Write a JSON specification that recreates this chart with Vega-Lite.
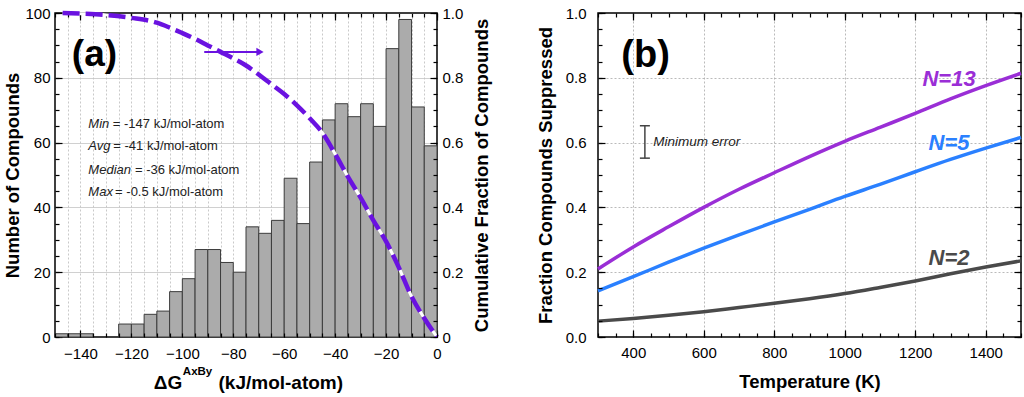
{
  "$schema": "https://vega.github.io/schema/vega-lite/v6.json",
  "background": "white",
  "padding": {"left": 3, "top": 3, "right": 0, "bottom": 2},
  "spacing": 42,
  "config": {
    "font": "Liberation Sans",
    "view": {"stroke": "#000", "strokeWidth": 1.5},
    "axis": {
      "labelFont": "Liberation Sans", "labelFontSize": 15, "labelColor": "#000",
      "titleFont": "Liberation Sans", "titleFontSize": 18.5, "titleFontWeight": "bold", "titleColor": "#000",
      "domain": false, "tickColor": "#000", "tickWidth": 1.2,
      "gridColor": "#c4c4c4", "gridWidth": 0.8, "labelFlush": false, "labelOverlap": false
    }
  },
  "datasets": {
    "bars": [
      {"lo": -150, "hi": -145, "n": 1}, {"lo": -145, "hi": -140, "n": 1}, {"lo": -140, "hi": -135, "n": 1},
      {"lo": -125, "hi": -120, "n": 4}, {"lo": -120, "hi": -115, "n": 4}, {"lo": -115, "hi": -110, "n": 7},
      {"lo": -110, "hi": -105, "n": 8}, {"lo": -105, "hi": -100, "n": 14}, {"lo": -100, "hi": -95, "n": 18},
      {"lo": -95, "hi": -90, "n": 27}, {"lo": -90, "hi": -85, "n": 27}, {"lo": -85, "hi": -80, "n": 23},
      {"lo": -80, "hi": -75, "n": 20}, {"lo": -75, "hi": -70, "n": 34}, {"lo": -70, "hi": -65, "n": 32},
      {"lo": -65, "hi": -60, "n": 36}, {"lo": -60, "hi": -55, "n": 49}, {"lo": -55, "hi": -50, "n": 35},
      {"lo": -50, "hi": -45, "n": 54}, {"lo": -45, "hi": -40, "n": 67}, {"lo": -40, "hi": -35, "n": 72},
      {"lo": -35, "hi": -30, "n": 68}, {"lo": -30, "hi": -25, "n": 72}, {"lo": -25, "hi": -20, "n": 65},
      {"lo": -20, "hi": -15, "n": 89}, {"lo": -15, "hi": -10, "n": 98}, {"lo": -10, "hi": -5, "n": 71},
      {"lo": -5, "hi": 0, "n": 59}
    ],
    "cum": [
      {"g": -147, "frac": 1.0}, {"g": -140, "frac": 0.998}, {"g": -130, "frac": 0.994}, {"g": -120, "frac": 0.985},
      {"g": -110, "frac": 0.97}, {"g": -105, "frac": 0.955}, {"g": -100, "frac": 0.938}, {"g": -95, "frac": 0.92},
      {"g": -90, "frac": 0.9}, {"g": -85, "frac": 0.88}, {"g": -80, "frac": 0.86}, {"g": -75, "frac": 0.838},
      {"g": -70, "frac": 0.81}, {"g": -65, "frac": 0.78}, {"g": -60, "frac": 0.75}, {"g": -55, "frac": 0.715},
      {"g": -50, "frac": 0.675}, {"g": -45, "frac": 0.63}, {"g": -40, "frac": 0.565}, {"g": -35, "frac": 0.495},
      {"g": -30, "frac": 0.43}, {"g": -25, "frac": 0.36}, {"g": -20, "frac": 0.295}, {"g": -15, "frac": 0.215},
      {"g": -10, "frac": 0.125}, {"g": -5, "frac": 0.058}, {"g": 0, "frac": 0.0}
    ],
    "arrow": [{"x1": -91.4, "x2": -70, "y": 88}],
    "arrowhead": [{"x": -69.5, "y": 88}],
    "panelA": [{"x": -143.4, "y": 87, "t": "(a)"}],
    "stats": [
      {"lab": "Min", "rest": "= -147 kJ/mol-atom", "x": -136.9, "xr": -127.3, "y": 65.8},
      {"lab": "Avg", "rest": "= -41 kJ/mol-atom", "x": -136.9, "xr": -127.1, "y": 58.8},
      {"lab": "Median", "rest": "= -36 kJ/mol-atom", "x": -136.9, "xr": -118.6, "y": 51.6},
      {"lab": "Max", "rest": "= -0.5 kJ/mol-atom", "x": -136.9, "xr": -126.4, "y": 44.6}
    ],
    "xtitleMain": [{"x": -111.2, "y": -14.2, "t": "ΔG"}, {"x": -85.8, "y": -14.2, "t": "(kJ/mol-atom)"}],
    "xtitleSup": [{"x": -99.8, "y": -10.9, "t": "AxBy"}],
    "curves": [
      {"s": "N=13", "T": 300, "f": 0.21}, {"s": "N=13", "T": 400, "f": 0.278}, {"s": "N=13", "T": 500, "f": 0.34},
      {"s": "N=13", "T": 600, "f": 0.4}, {"s": "N=13", "T": 700, "f": 0.456}, {"s": "N=13", "T": 800, "f": 0.507},
      {"s": "N=13", "T": 900, "f": 0.557}, {"s": "N=13", "T": 1000, "f": 0.604}, {"s": "N=13", "T": 1100, "f": 0.647},
      {"s": "N=13", "T": 1200, "f": 0.69}, {"s": "N=13", "T": 1300, "f": 0.735}, {"s": "N=13", "T": 1400, "f": 0.776},
      {"s": "N=13", "T": 1500, "f": 0.814},
      {"s": "N=5", "T": 300, "f": 0.142}, {"s": "N=5", "T": 400, "f": 0.186}, {"s": "N=5", "T": 500, "f": 0.231},
      {"s": "N=5", "T": 600, "f": 0.274}, {"s": "N=5", "T": 700, "f": 0.315}, {"s": "N=5", "T": 800, "f": 0.355},
      {"s": "N=5", "T": 900, "f": 0.394}, {"s": "N=5", "T": 1000, "f": 0.434}, {"s": "N=5", "T": 1100, "f": 0.471},
      {"s": "N=5", "T": 1200, "f": 0.51}, {"s": "N=5", "T": 1300, "f": 0.548}, {"s": "N=5", "T": 1400, "f": 0.583},
      {"s": "N=5", "T": 1500, "f": 0.616},
      {"s": "N=2", "T": 300, "f": 0.049}, {"s": "N=2", "T": 400, "f": 0.057}, {"s": "N=2", "T": 500, "f": 0.067},
      {"s": "N=2", "T": 600, "f": 0.078}, {"s": "N=2", "T": 700, "f": 0.091}, {"s": "N=2", "T": 800, "f": 0.104},
      {"s": "N=2", "T": 900, "f": 0.118}, {"s": "N=2", "T": 1000, "f": 0.134}, {"s": "N=2", "T": 1100, "f": 0.153},
      {"s": "N=2", "T": 1200, "f": 0.173}, {"s": "N=2", "T": 1300, "f": 0.195}, {"s": "N=2", "T": 1400, "f": 0.216},
      {"s": "N=2", "T": 1500, "f": 0.235}
    ],
    "curveLabels": [
      {"s": "N=13", "T": 1296, "f": 0.797}, {"s": "N=5", "T": 1296, "f": 0.598}, {"s": "N=2", "T": 1296, "f": 0.243}
    ],
    "err": [{"T": 433, "lo": 0.552, "hi": 0.652}],
    "errCaps": [{"T": 433, "f": 0.552}, {"T": 433, "f": 0.652}],
    "errText": [{"T": 457, "f": 0.601, "t": "Minimum error"}],
    "panelB": [{"T": 435, "f": 0.866, "t": "(b)"}]
  },
  "hconcat": [
    {
      "width": 382,
      "height": 324,
      "resolve": {"scale": {"y": "independent"}, "axis": {"x": "independent", "y": "independent"}},
      "layer": [
        {
          "data": {"name": "bars"},
          "mark": {"type": "bar", "fill": "#ababab", "stroke": "#3c3c3c", "strokeWidth": 1, "opacity": 1},
          "encoding": {
            "x": {"field": "lo", "type": "quantitative", "scale": {"domain": [-150, 0], "nice": false, "zero": false},
              "axis": {"orient": "bottom", "title": null, "values": [-140,-120,-100,-80,-60,-40,-20,0],
                "grid": false, "tickSize": 7, "offset": -7, "labelPadding": 9}},
            "x2": {"field": "hi"},
            "y": {"field": "n", "type": "quantitative", "scale": {"domain": [0, 100], "nice": false},
              "axis": {"orient": "left", "title": "Number of Compounds", "titlePadding": 2,
                "values": [0,20,40,60,80,100], "grid": false, "tickSize": 7, "offset": -7, "labelPadding": 5}},
            "y2": {"datum": 0}
          }
        },
        {
          "data": {"name": "cum"},
          "mark": {"type": "line", "color": "white", "strokeWidth": 3, "interpolate": "monotone"},
          "encoding": {
            "x": {"field": "g", "type": "quantitative", "scale": {"domain": [-150, 0], "nice": false, "zero": false},
              "axis": {"orient": "bottom", "title": null, "labels": false, "grid": false, "zindex": 2,
                "values": [-150,-145,-140,-135,-130,-125,-120,-115,-110,-105,-100,-95,-90,-85,-80,-75,-70,-65,-60,-55,-50,-45,-40,-35,-30,-25,-20,-15,-10,-5,0],
                "tickSize": 4, "offset": -4}},
            "y": {"field": "frac", "type": "quantitative", "scale": {"domain": [0, 1], "nice": false},
              "axis": {"orient": "right", "title": null, "labels": false, "grid": false, "zindex": 2,
                "values": [0,0.05,0.1,0.15,0.2,0.25,0.3,0.35,0.4,0.45,0.5,0.55,0.6,0.65,0.7,0.75,0.8,0.85,0.9,0.95,1],
                "tickSize": 4, "offset": -4}}
          }
        },
        {
          "data": {"name": "cum"},
          "mark": {"type": "line", "color": "#6a12e0", "strokeWidth": 4.5, "strokeDash": [17, 6], "interpolate": "monotone"},
          "encoding": {
            "x": {"field": "g", "type": "quantitative", "scale": {"domain": [-150, 0], "nice": false, "zero": false},
              "axis": {"orient": "top", "title": null, "labels": false, "grid": false,
                "values": [-140,-120,-100,-80,-60,-40,-20,0], "tickSize": 7, "offset": -7}},
            "y": {"field": "frac", "type": "quantitative", "scale": {"domain": [0, 1], "nice": false},
              "axis": {"orient": "right", "title": "Cumulative Fraction of Compounds", "titlePadding": 10,
                "titleAngle": 270, "titleBaseline": "top",
                "values": [0,0.2,0.4,0.6,0.8,1],
                "labelExpr": "datum.value === 0 ? '0' : format(datum.value, '.1f')",
                "grid": false, "tickSize": 7, "offset": -7, "labelPadding": 5}}
          }
        },
        {
          "data": {"name": "arrow"},
          "mark": {"type": "rule", "color": "#6a12e0", "strokeWidth": 2},
          "encoding": {
            "x": {"field": "x1", "type": "quantitative", "scale": {"domain": [-150, 0], "nice": false, "zero": false},
              "axis": {"orient": "top", "title": null, "labels": false, "grid": false,
                "values": [-150,-145,-140,-135,-130,-125,-120,-115,-110,-105,-100,-95,-90,-85,-80,-75,-70,-65,-60,-55,-50,-45,-40,-35,-30,-25,-20,-15,-10,-5,0],
                "tickSize": 4, "offset": -4}},
            "x2": {"field": "x2"},
            "y": {"field": "y", "type": "quantitative", "scale": {"domain": [0, 100], "nice": false},
              "axis": {"orient": "left", "title": null, "labels": false, "grid": false, "zindex": 2,
                "values": [0,5,10,15,20,25,30,35,40,45,50,55,60,65,70,75,80,85,90,95,100], "tickSize": 4, "offset": -4}}
          }
        },
        {
          "data": {"name": "arrowhead"},
          "mark": {"type": "point", "shape": "triangle-right", "filled": true, "color": "#6a12e0", "size": 70, "opacity": 1},
          "encoding": {
            "x": {"field": "x", "type": "quantitative", "scale": {"domain": [-150, 0], "nice": false, "zero": false},
              "axis": {"orient": "bottom", "title": null, "labels": false, "ticks": false, "grid": true, "gridDash": [2, 2], "gridColor": "#bbbbbb",
                "values": [-145,-140,-135,-130,-125,-120,-115,-110,-105,-100,-95,-90,-85,-80,-75,-70,-65,-60,-55,-50,-45,-40,-35,-30,-25,-20,-15,-10,-5]}},
            "y": {"field": "y", "type": "quantitative", "scale": {"domain": [0, 100], "nice": false},
              "axis": {"orient": "left", "title": null, "labels": false, "ticks": false, "grid": true,
                "values": [20,40,60,80]}}
          }
        },
        {
          "data": {"name": "stats"},
          "mark": {"type": "text", "align": "left", "baseline": "middle", "fontSize": 13, "fontStyle": "italic", "color": "#222"},
          "encoding": {
            "x": {"field": "x", "type": "quantitative", "scale": {"domain": [-150, 0], "nice": false, "zero": false}, "axis": null},
            "y": {"field": "y", "type": "quantitative", "scale": {"domain": [0, 100], "nice": false}, "axis": null},
            "text": {"field": "lab"}
          }
        },
        {
          "data": {"name": "stats"},
          "mark": {"type": "text", "align": "left", "baseline": "middle", "fontSize": 13, "color": "#222"},
          "encoding": {
            "x": {"field": "xr", "type": "quantitative", "scale": {"domain": [-150, 0], "nice": false, "zero": false}, "axis": null},
            "y": {"field": "y", "type": "quantitative", "scale": {"domain": [0, 100], "nice": false}, "axis": null},
            "text": {"field": "rest"}
          }
        },
        {
          "data": {"name": "xtitleMain"},
          "mark": {"type": "text", "align": "left", "baseline": "middle", "fontSize": 19, "fontWeight": "bold", "color": "#000"},
          "encoding": {
            "x": {"field": "x", "type": "quantitative", "scale": {"domain": [-150, 0], "nice": false, "zero": false}, "axis": null},
            "y": {"field": "y", "type": "quantitative", "scale": {"domain": [0, 100], "nice": false}, "axis": null},
            "text": {"field": "t"}
          }
        },
        {
          "data": {"name": "xtitleSup"},
          "mark": {"type": "text", "align": "left", "baseline": "middle", "fontSize": 11.5, "fontWeight": "bold", "color": "#000"},
          "encoding": {
            "x": {"field": "x", "type": "quantitative", "scale": {"domain": [-150, 0], "nice": false, "zero": false}, "axis": null},
            "y": {"field": "y", "type": "quantitative", "scale": {"domain": [0, 100], "nice": false}, "axis": null},
            "text": {"field": "t"}
          }
        },
        {
          "data": {"name": "panelA"},
          "mark": {"type": "text", "align": "left", "baseline": "middle", "fontSize": 37, "fontWeight": "bold", "color": "#000"},
          "encoding": {
            "x": {"field": "x", "type": "quantitative", "scale": {"domain": [-150, 0], "nice": false, "zero": false}, "axis": null},
            "y": {"field": "y", "type": "quantitative", "scale": {"domain": [0, 100], "nice": false}, "axis": null},
            "text": {"field": "t"}
          }
        }
      ]
    },
    {
      "width": 423,
      "height": 324,
      "resolve": {"axis": {"x": "independent", "y": "independent"}},
      "layer": [
        {
          "data": {"name": "curves"},
          "mark": {"type": "line", "strokeWidth": 3.5, "interpolate": "monotone"},
          "encoding": {
            "x": {"field": "T", "type": "quantitative", "scale": {"domain": [300, 1500], "nice": false, "zero": false},
              "axis": {"orient": "bottom", "title": "Temperature (K)", "titlePadding": 12,
                "values": [400,600,800,1000,1200,1400], "format": "d",
                "grid": false, "tickSize": 7, "offset": -7, "labelPadding": 8}},
            "y": {"field": "f", "type": "quantitative", "scale": {"domain": [0, 1], "nice": false},
              "axis": {"orient": "left", "title": "Fraction Compounds Suppressed", "titlePadding": 10,
                "values": [0,0.2,0.4,0.6,0.8,1], "format": ".1f",
                "grid": false, "tickSize": 7, "offset": -7, "labelPadding": 12}},
            "color": {"field": "s", "type": "nominal", "scale": {"domain": ["N=13", "N=5", "N=2"], "range": ["#9a2ed6", "#2a80ff", "#4a4a4a"]}, "legend": null}
          }
        },
        {
          "data": {"name": "curveLabels"},
          "mark": {"type": "text", "align": "center", "baseline": "middle", "fontSize": 22, "fontWeight": "bold", "fontStyle": "italic"},
          "encoding": {
            "x": {"field": "T", "type": "quantitative", "scale": {"domain": [300, 1500], "nice": false, "zero": false},
              "axis": {"orient": "bottom", "title": null, "labels": false, "grid": false, "zindex": 2,
                "values": [300,350,400,450,500,550,600,650,700,750,800,850,900,950,1000,1050,1100,1150,1200,1250,1300,1350,1400,1450,1500],
                "tickSize": 4, "offset": -4}},
            "y": {"field": "f", "type": "quantitative", "scale": {"domain": [0, 1], "nice": false},
              "axis": {"orient": "left", "title": null, "labels": false, "grid": false, "zindex": 2,
                "values": [0,0.05,0.1,0.15,0.2,0.25,0.3,0.35,0.4,0.45,0.5,0.55,0.6,0.65,0.7,0.75,0.8,0.85,0.9,0.95,1],
                "tickSize": 4, "offset": -4}},
            "text": {"field": "s"},
            "color": {"field": "s", "type": "nominal", "scale": {"domain": ["N=13", "N=5", "N=2"], "range": ["#9a2ed6", "#2a80ff", "#4a4a4a"]}, "legend": null}
          }
        },
        {
          "data": {"name": "err"},
          "mark": {"type": "rule", "color": "#444", "strokeWidth": 1.5},
          "encoding": {
            "x": {"field": "T", "type": "quantitative", "scale": {"domain": [300, 1500], "nice": false, "zero": false},
              "axis": {"orient": "top", "title": null, "labels": false, "grid": false,
                "values": [300,350,400,450,500,550,600,650,700,750,800,850,900,950,1000,1050,1100,1150,1200,1250,1300,1350,1400,1450,1500],
                "tickSize": 4, "offset": -4}},
            "y": {"field": "lo", "type": "quantitative", "scale": {"domain": [0, 1], "nice": false},
              "axis": {"orient": "right", "title": null, "labels": false, "grid": false, "zindex": 2,
                "values": [0,0.05,0.1,0.15,0.2,0.25,0.3,0.35,0.4,0.45,0.5,0.55,0.6,0.65,0.7,0.75,0.8,0.85,0.9,0.95,1],
                "tickSize": 4, "offset": -4}},
            "y2": {"field": "hi"}
          }
        },
        {
          "data": {"name": "errCaps"},
          "mark": {"type": "tick", "orient": "horizontal", "color": "#444", "size": 10, "thickness": 1.5, "opacity": 1},
          "encoding": {
            "x": {"field": "T", "type": "quantitative", "scale": {"domain": [300, 1500], "nice": false, "zero": false},
              "axis": {"orient": "top", "title": null, "labels": false, "grid": false,
                "values": [400,600,800,1000,1200,1400], "tickSize": 7, "offset": -7}},
            "y": {"field": "f", "type": "quantitative", "scale": {"domain": [0, 1], "nice": false},
              "axis": {"orient": "right", "title": null, "labels": false, "grid": false, "zindex": 2,
                "values": [0,0.2,0.4,0.6,0.8,1], "tickSize": 7, "offset": -7}}
          }
        },
        {
          "data": {"name": "errText"},
          "mark": {"type": "text", "align": "left", "baseline": "middle", "fontSize": 13.5, "fontStyle": "italic", "color": "#222"},
          "encoding": {
            "x": {"field": "T", "type": "quantitative", "scale": {"domain": [300, 1500], "nice": false, "zero": false},
              "axis": {"orient": "bottom", "title": null, "labels": false, "ticks": false, "grid": true, "gridDash": [2, 2], "gridColor": "#a8a8a8",
                "values": [400,600,800,1000,1200,1400]}},
            "y": {"field": "f", "type": "quantitative", "scale": {"domain": [0, 1], "nice": false},
              "axis": {"orient": "left", "title": null, "labels": false, "ticks": false, "grid": true, "gridDash": [2, 2], "gridColor": "#a8a8a8",
                "values": [0.2,0.4,0.6,0.8]}},
            "text": {"field": "t"}
          }
        },
        {
          "data": {"name": "panelB"},
          "mark": {"type": "text", "align": "center", "baseline": "middle", "fontSize": 38, "fontWeight": "bold", "color": "#000"},
          "encoding": {
            "x": {"field": "T", "type": "quantitative", "scale": {"domain": [300, 1500], "nice": false, "zero": false}, "axis": null},
            "y": {"field": "f", "type": "quantitative", "scale": {"domain": [0, 1], "nice": false}, "axis": null},
            "text": {"field": "t"}
          }
        }
      ]
    }
  ]
}
